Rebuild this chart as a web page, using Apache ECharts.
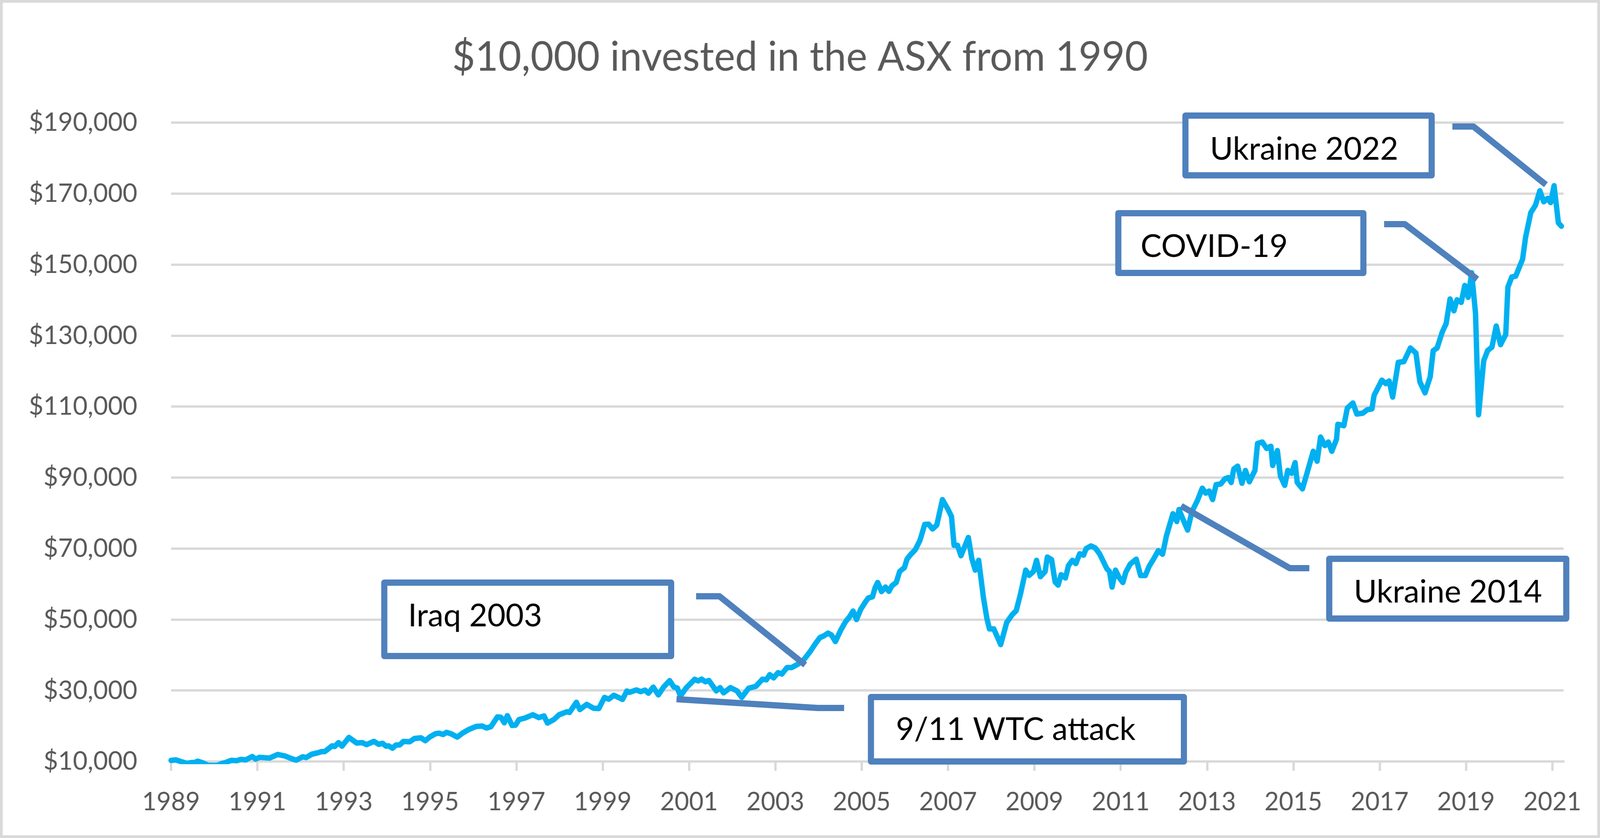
<!DOCTYPE html>
<html>
<head>
<meta charset="utf-8">
<title>$10,000 invested in the ASX from 1990</title>
<script src="https://cdn.jsdelivr.net/npm/echarts@6/dist/echarts.min.js"></script>
<style>
    html, body { margin: 0; padding: 0; background: #fff; overflow: hidden; }
    #chart { width: 4172px; height: 2146px; transform-origin: 0 0; }
</style>
</head>
<body>
<div id="chart"></div>
<script>
// position on the x axis (the chart's own year labels) of each reading
var years = [
    1989.00, 1989.11, 1989.24, 1989.37, 1989.48, 1989.54, 1989.62, 1989.73, 1989.86, 1990.07,
    1990.18, 1990.26, 1990.39, 1990.52, 1990.62, 1990.73, 1990.88, 1990.96, 1991.05, 1991.28,
    1991.47, 1991.64, 1991.79, 1991.90, 1992.05, 1992.13, 1992.26, 1992.39, 1992.49, 1992.56,
    1992.73, 1992.79, 1992.88, 1992.96, 1993.12, 1993.30, 1993.43, 1993.53, 1993.70, 1993.81,
    1993.90, 1993.98, 1994.04, 1994.13, 1994.21, 1994.30, 1994.38, 1994.53, 1994.64, 1994.79,
    1994.89, 1995.00, 1995.13, 1995.21, 1995.30, 1995.38, 1995.49, 1995.63, 1995.75, 1995.89,
    1996.07, 1996.21, 1996.31, 1996.41, 1996.56, 1996.64, 1996.72, 1996.79, 1996.90, 1996.98,
    1997.06, 1997.20, 1997.38, 1997.52, 1997.64, 1997.72, 1997.87, 1997.99, 1998.17, 1998.23,
    1998.39, 1998.47, 1998.63, 1998.79, 1998.91, 1999.04, 1999.14, 1999.26, 1999.46, 1999.56,
    1999.62, 1999.78, 1999.88, 1999.98, 2000.06, 2000.17, 2000.29, 2000.41, 2000.55, 2000.65,
    2000.73, 2000.80, 2000.93, 2001.13, 2001.21, 2001.29, 2001.38, 2001.46, 2001.63, 2001.72,
    2001.80, 2001.96, 2002.11, 2002.22, 2002.38, 2002.55, 2002.70, 2002.79, 2002.87, 2002.96,
    2003.06, 2003.15, 2003.27, 2003.38, 2003.52, 2003.66, 2003.81, 2003.93, 2004.03, 2004.13,
    2004.22, 2004.30, 2004.39, 2004.51, 2004.63, 2004.71, 2004.80, 2004.88, 2004.98, 2005.09,
    2005.15, 2005.25, 2005.31, 2005.37, 2005.46, 2005.55, 2005.63, 2005.70, 2005.80, 2005.88,
    2005.99, 2006.05, 2006.12, 2006.24, 2006.35, 2006.46, 2006.55, 2006.64, 2006.74, 2006.87,
    2007.00, 2007.08, 2007.14, 2007.22, 2007.30, 2007.47, 2007.55, 2007.63, 2007.71, 2007.82,
    2007.90, 2007.96, 2008.06, 2008.22, 2008.36, 2008.49, 2008.58, 2008.68, 2008.80, 2008.88,
    2008.98, 2009.05, 2009.14, 2009.25, 2009.30, 2009.40, 2009.48, 2009.55, 2009.62, 2009.72,
    2009.79, 2009.88, 2009.96, 2010.05, 2010.14, 2010.20, 2010.31, 2010.41, 2010.51, 2010.60,
    2010.68, 2010.74, 2010.80, 2010.88, 2010.96, 2011.05, 2011.12, 2011.22, 2011.36, 2011.46,
    2011.57, 2011.66, 2011.77, 2011.87, 2011.97, 2012.06, 2012.21, 2012.30, 2012.35, 2012.43,
    2012.55, 2012.65, 2012.78, 2012.89, 2012.97, 2013.05, 2013.13, 2013.21, 2013.32, 2013.41,
    2013.49, 2013.56, 2013.62, 2013.71, 2013.81, 2013.89, 2013.98, 2014.11, 2014.17, 2014.28,
    2014.38, 2014.48, 2014.52, 2014.63, 2014.70, 2014.80, 2014.87, 2014.96, 2015.04, 2015.09,
    2015.21, 2015.32, 2015.46, 2015.55, 2015.63, 2015.73, 2015.81, 2015.89, 2016.00, 2016.03,
    2016.11, 2016.17, 2016.25, 2016.38, 2016.47, 2016.61, 2016.71, 2016.82, 2016.87, 2017.05,
    2017.14, 2017.22, 2017.30, 2017.43, 2017.56, 2017.71, 2017.84, 2017.93, 2018.05, 2018.17,
    2018.24, 2018.33, 2018.45, 2018.54, 2018.63, 2018.72, 2018.79, 2018.89, 2018.97, 2019.05,
    2019.13, 2019.22, 2019.29, 2019.41, 2019.50, 2019.60, 2019.70, 2019.80, 2019.92, 2019.97,
    2020.06, 2020.15, 2020.31, 2020.38, 2020.50, 2020.61, 2020.71, 2020.80, 2020.89, 2020.96,
    2021.04, 2021.14, 2021.21
];

// value of the $10,000 investment at each reading
var values = [
    10300, 10440, 9930, 9450, 9700, 9700, 10070, 9630, 8900, 8900,
    9450, 9700, 10290, 10220, 10590, 10440, 11390, 10660, 11170, 10950,
    11970, 11540, 10800, 10370, 11320, 11100, 12050, 12410, 12780, 12780,
    14390, 14200, 15300, 14320, 16770, 15190, 15300, 14750, 15670, 14830,
    15120, 14320, 14390, 13730, 14610, 14680, 15630, 15560, 16470, 16660,
    15850, 16950, 17830, 17970, 17600, 18200, 17790, 16870, 17970, 18960,
    19870, 19980, 19430, 19800, 22540, 22470, 20890, 22910, 20160, 20230,
    21810, 22250, 23160, 22360, 22830, 20820, 21810, 23160, 24000, 23820,
    26670, 24620, 26090, 24990, 24920, 28030, 27550, 28650, 27480, 29850,
    29490, 30150, 29670, 30110, 29230, 30950, 28760, 30950, 32780, 30950,
    30690, 28390, 30690, 33140, 32700, 33200, 32450, 32820, 29890, 30800,
    29340, 30800, 29890, 28060, 30620, 31170, 33180, 33000, 34460, 33550,
    35010, 34640, 36470, 36470, 37390, 38670, 41040, 43240, 44880, 45430,
    46160, 45620, 43790, 46900, 49460, 50630, 52380, 50000, 52930, 55010,
    56040, 56400, 58960, 60430, 57870, 59150, 57940, 59510, 60430, 63540,
    64630, 67010, 68110, 69640, 72300, 76790, 76860, 75500, 76610, 83780,
    81020, 79000, 70900, 70900, 67960, 73110, 67220, 63910, 66670, 56180,
    50290, 47350, 47350, 42930, 49190, 51400, 52500, 57290, 63910, 62440,
    63540, 66670, 62070, 63540, 67590, 66850, 60600, 59680, 62620, 61700,
    65200, 66670, 65750, 68510, 68140, 69980, 70720, 70170, 68510, 66300,
    64280, 63540, 59130, 63910, 61890, 60420, 63360, 65600, 67000, 62400,
    62400, 65000, 67200, 69400, 68400, 73600, 79800, 77600, 81000, 78600,
    75200, 80400, 83600, 87000, 85600, 86200, 83800, 88000, 88200, 89600,
    90000, 88600, 92400, 93200, 88400, 92000, 88800, 92000, 99600, 100000,
    98200, 98800, 93400, 97600, 90400, 87800, 92000, 91200, 94200, 88600,
    86800, 91400, 97400, 94600, 101400, 99000, 100000, 97400, 100800, 105000,
    104800, 104600, 109570, 111000, 107900, 108140, 109100, 109330, 113140, 117430,
    116480, 117200, 112670, 122440, 122670, 126490, 125060, 116960, 113860, 118390,
    125770, 126490, 131010, 133400, 140300, 136970, 140070, 139350, 144120, 140780,
    147690, 136260, 107670, 122910, 125770, 126730, 132680, 127440, 130300, 143640,
    146500, 146740, 151500, 157700, 164610, 166750, 170800, 167700, 168660, 167470,
    172230, 161750, 160800
];

// labelled ticks on the x axis
var yearTicks = [1989, 1991, 1993, 1995, 1997, 1999, 2001, 2003, 2005, 2007, 2009, 2011, 2013, 2015, 2017, 2019, 2021];

// callouts: text and the point on the line each leader points at
var calloutText = ['Iraq 2003', '9/11 WTC attack', 'Ukraine 2014', 'COVID-19', 'Ukraine 2022'];
var calloutYear = [2003.69, 2000.71, 2012.40, 2019.26, 2020.85];
var calloutValue = [37200, 27550, 82000, 145900, 172500];

// callout layout in pixels: box [x, y, w, h], text [x, y], leader bend and end points
var calloutBox = [[1002, 1492, 748, 188], [2271, 1785, 816, 165], [3466, 1431, 618, 153], [2916, 546, 639, 153], [3091, 296, 642, 153]];
var calloutTextPos = [[1064, 1578], [2336, 1869], [3530, 1517], [2974, 632], [3155, 383]];
var calloutLeader = [
    [[1876, 1527], [1815, 1527]],
    [[2132, 1813], [2201, 1813]],
    [[3363, 1455], [3414, 1455]],
    [[3663, 574], [3609, 574]],
    [[3842, 324], [3787, 324]]
];

var lineData = [];
for (var i = 0; i < years.length; i++) {
    lineData.push([years[i], values[i]]);
}

var gridColor = '#d9d9d9';
var textColor = '#595959';
var calloutColor = '#4f81bd';

// the chart is laid out at 4172 x 2146 and scaled to whatever the window really shows
var dom = document.getElementById('chart');
var sx = (window.innerWidth || 4172) / 4172;
var sy = (window.innerHeight || 2146) / 2146;
dom.style.transform = 'scale(' + sx + ',' + sy + ')';

var myChart = echarts.init(dom);

var option = {
    backgroundColor: '#fff',
    animation: false,
    title: {
        text: '$10,000 invested in the ASX from 1990',
        left: 'center',
        top: 90,
        textStyle: {
            fontFamily: 'Lato',
            fontSize: 104,
            fontWeight: 'normal',
            color: textColor
        }
    },
    grid: {
        left: 446,
        right: 95,
        top: 314,
        bottom: 196
    },
    xAxis: {
        type: 'value',
        min: 1989,
        max: 2021.26,
        splitLine: { show: false },
        axisLine: {
            show: true,
            lineStyle: { color: gridColor, width: 6 }
        },
        axisTick: {
            show: true,
            length: 24,
            customValues: yearTicks,
            lineStyle: { color: gridColor, width: 6 }
        },
        axisLabel: {
            customValues: yearTicks,
            margin: 72,
            fontFamily: 'Lato',
            fontSize: 65,
            color: textColor,
            formatter: function (v) { return String(v); }
        }
    },
    yAxis: {
        type: 'value',
        min: 10000,
        max: 190000,
        interval: 20000,
        axisLine: { show: false },
        axisTick: { show: false },
        splitLine: {
            show: true,
            lineStyle: { color: gridColor, width: 6 }
        },
        axisLabel: {
            margin: 88,
            fontFamily: 'Lato',
            fontSize: 66,
            color: textColor,
            formatter: function (v) {
                return '$' + v.toString().replace(/\B(?=(\d{3})+(?!\d))/g, ',');
            }
        }
    },
    series: [{
        type: 'line',
        data: lineData,
        symbol: 'none',
        clip: true,
        lineStyle: {
            color: '#00b0f0',
            width: 14,
            join: 'round',
            cap: 'round'
        }
    }]
};

myChart.setOption(option);

// callout boxes and leader lines, anchored on the line through the chart's scales
var graphics = [{
    type: 'rect',
    shape: { x: 3.5, y: 3.5, width: 4165, height: 2139 },
    style: { fill: 'none', stroke: gridColor, lineWidth: 7 },
    silent: true,
    z: 100
}];
for (var k = 0; k < calloutText.length; k++) {
    var anchor = myChart.convertToPixel({ gridIndex: 0 }, [calloutYear[k], calloutValue[k]]);
    graphics.push({
        type: 'polyline',
        shape: { points: [anchor].concat(calloutLeader[k]) },
        style: { fill: 'none', stroke: calloutColor, lineWidth: 16, lineJoin: 'round' },
        z: 100
    });
    var b = calloutBox[k];
    graphics.push({
        type: 'rect',
        shape: { x: b[0], y: b[1], width: b[2], height: b[3] },
        style: { fill: '#fff', stroke: calloutColor, lineWidth: 16, lineJoin: 'round' },
        z: 100
    });
    graphics.push({
        type: 'text',
        x: calloutTextPos[k][0],
        y: calloutTextPos[k][1],
        style: {
            text: calloutText[k],
            fontFamily: 'Lato',
            fontSize: 82,
            fill: '#000',
            align: 'left',
            verticalAlign: 'middle'
        },
        z: 101
    });
}
myChart.setOption({ graphic: graphics });
</script>
</body>
</html>
